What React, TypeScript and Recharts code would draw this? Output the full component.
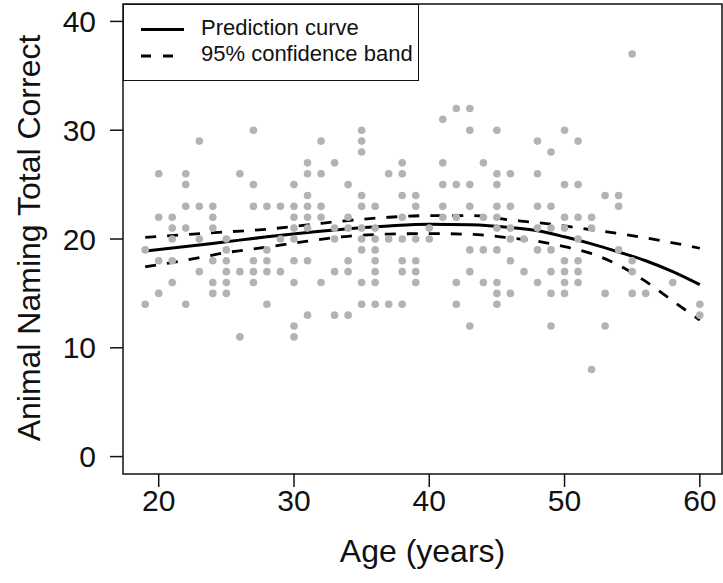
import { ComposedChart, Scatter, Line, XAxis, YAxis, ReferenceArea, Label } from 'recharts'

// observed scores, one column per age
const sampleColumns = [
  { age: 19, scores: [19, 14] },
  { age: 20, scores: [26, 22, 18, 15] },
  { age: 21, scores: [22, 21, 20, 18, 16] },
  { age: 22, scores: [26, 25, 23, 21, 14] },
  { age: 23, scores: [29, 23, 20, 17] },
  { age: 24, scores: [23, 22, 21, 18, 16, 15] },
  { age: 25, scores: [20, 19, 18, 17, 16, 15] },
  { age: 26, scores: [26, 17, 11] },
  { age: 27, scores: [30, 25, 23, 18, 17, 16] },
  { age: 28, scores: [23, 19, 18, 17, 14] },
  { age: 29, scores: [23, 20, 17] },
  { age: 30, scores: [25, 23, 22, 21, 20, 18, 16, 12, 11] },
  { age: 31, scores: [27, 26, 24, 23, 22, 21, 18, 13] },
  { age: 32, scores: [29, 26, 23, 22, 16] },
  { age: 33, scores: [27, 21, 20, 17, 13] },
  { age: 34, scores: [25, 22, 21, 18, 17, 13] },
  { age: 35, scores: [30, 29, 28, 24, 23, 21, 20, 19, 16, 14] },
  { age: 36, scores: [23, 21, 20, 19, 18, 17, 16, 14] },
  { age: 37, scores: [26, 20, 14] },
  { age: 38, scores: [27, 26, 24, 22, 20, 18, 17, 14] },
  { age: 39, scores: [24, 23, 20, 18, 17, 16] },
  { age: 40, scores: [21, 20] },
  { age: 41, scores: [31, 27, 25, 23, 22] },
  { age: 42, scores: [32, 25, 22, 16, 14] },
  { age: 43, scores: [32, 30, 25, 23, 19, 17, 12] },
  { age: 44, scores: [27, 22, 19, 16] },
  { age: 45, scores: [30, 26, 25, 23, 22, 21, 19, 16, 15, 14] },
  { age: 46, scores: [26, 23, 21, 20, 18, 15] },
  { age: 47, scores: [20, 17] },
  { age: 48, scores: [29, 26, 23, 21, 19, 16] },
  { age: 49, scores: [28, 23, 21, 19, 17, 15, 12] },
  { age: 50, scores: [30, 25, 22, 21, 18, 17, 16, 15] },
  { age: 51, scores: [29, 25, 22, 20, 18, 17, 16] },
  { age: 52, scores: [22, 21, 8] },
  { age: 53, scores: [24, 15, 12] },
  { age: 54, scores: [24, 23, 19] },
  { age: 55, scores: [37, 18, 17, 15] },
  { age: 56, scores: [15] },
  { age: 58, scores: [16] },
  { age: 60, scores: [14, 13] },
]

// fitted curve and 95% band
const curveAges = [19, 22, 25, 28, 31, 34, 37, 40, 43, 46, 48, 50, 52, 54, 56, 58, 60]
const predicted = [18.9, 19.3, 19.75, 20.2, 20.6, 20.95, 21.2, 21.35, 21.3, 21.05, 20.75, 20.2, 19.55, 18.8, 18.0, 17.0, 15.8]
const upperBand = [20.15, 20.4, 20.65, 20.9, 21.3, 21.7, 22.0, 22.15, 22.15, 21.75, 21.5, 21.2, 20.85, 20.5, 20.1, 19.65, 19.15]
const lowerBand = [17.45, 18.05, 18.75, 19.25, 19.8, 20.25, 20.45, 20.5, 20.43, 20.1, 19.8, 19.3, 18.65, 17.6, 16.1, 14.3, 12.55]

const xTicks = [20, 30, 40, 50, 60]
const yTicks = [0, 10, 20, 30, 40]

const points = sampleColumns.flatMap((c) => c.scores.map((s) => ({ age: c.age, score: s })))
const toLine = (vals: number[]) => curveAges.map((a, i) => ({ age: a, score: vals[i] }))

const font = '"Liberation Sans", Arial, Helvetica, sans-serif'
const ink = '#111'

const Dot = (props: any) => <circle cx={props.cx} cy={props.cy} r={3.8} fill="#b3b3b3" />

export default function App() {
  return (
    <div style={{ position: 'absolute', left: 0, top: 0, width: 723, height: 583, background: '#fff', fontFamily: font }}>
      <ComposedChart width={723} height={583} margin={{ top: 4, right: 1, bottom: 0, left: 0 }}>
        <XAxis
          type="number"
          dataKey="age"
          domain={[17.36, 61.64]}
          allowDataOverflow
          ticks={xTicks}
          tickSize={13}
          tickMargin={3}
          axisLine={false}
          tickLine={{ stroke: ink, strokeWidth: 1.5 }}
          tick={{ fill: ink, fontSize: 30, fontFamily: font }}
          height={109}
        >
          <Label value="Age (years)" position="insideBottom" offset={21} fill={ink} fontSize={32} fontFamily={font} />
        </XAxis>
        <YAxis
          type="number"
          dataKey="score"
          domain={[-1.6, 41.6]}
          allowDataOverflow
          ticks={yTicks}
          tickSize={13}
          tickMargin={14}
          axisLine={false}
          tickLine={{ stroke: ink, strokeWidth: 1.5 }}
          tick={{ fill: ink, fontSize: 30, fontFamily: font }}
          width={123}
        >
          <Label
            content={() => (
              <text x={40} y={238} transform="rotate(-90, 40, 238)" textAnchor="middle" fill={ink} fontSize={32} fontFamily={font}>
                Animal Naming Total Correct
              </text>
            )}
          />
        </YAxis>
        <Scatter data={points} dataKey="score" shape={Dot} isAnimationActive={false} />
        <Line data={toLine(upperBand)} dataKey="score" type="monotone" stroke="#000" strokeWidth={2.8} strokeDasharray="11 11" dot={false} activeDot={false} isAnimationActive={false} />
        <Line data={toLine(lowerBand)} dataKey="score" type="monotone" stroke="#000" strokeWidth={2.8} strokeDasharray="11 11" dot={false} activeDot={false} isAnimationActive={false} />
        <Line data={toLine(predicted)} dataKey="score" type="monotone" stroke="#000" strokeWidth={3} dot={false} activeDot={false} isAnimationActive={false} />
        <ReferenceArea x1={17.36} x2={61.64} y1={-1.6} y2={41.6} fill="none" stroke={ink} strokeWidth={1.5} ifOverflow="visible" />
      </ComposedChart>

      {/* legend box, top left inside the plot */}
      <div style={{ position: 'absolute', left: 123, top: 4, width: 296, height: 77, border: `1.5px solid ${ink}`, boxSizing: 'border-box', background: '#fff' }}>
        <svg width={60} height={77} style={{ position: 'absolute', left: 0, top: 0 }}>
          <line x1={17} x2={60} y1={24.5} y2={24.5} stroke="#000" strokeWidth={3} />
          <line x1={17} x2={60} y1={51} y2={51} stroke="#000" strokeWidth={2.8} strokeDasharray="10 12" />
        </svg>
        <div style={{ position: 'absolute', left: 77, top: 10, fontSize: 22, lineHeight: '26px', color: ink }}>
          <div>Prediction curve</div>
          <div>95% confidence band</div>
        </div>
      </div>
    </div>
  )
}
